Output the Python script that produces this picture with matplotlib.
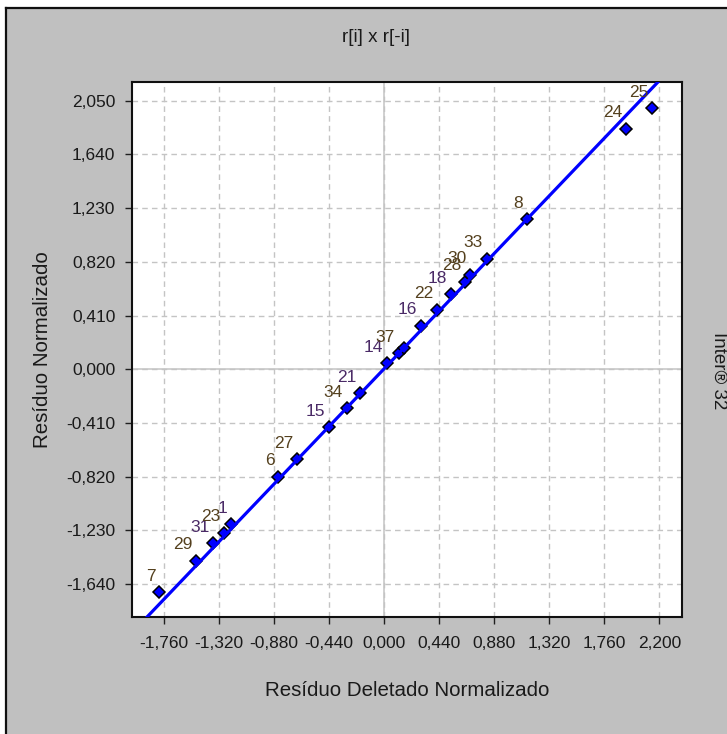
import matplotlib
matplotlib.use("Agg")
import matplotlib.pyplot as plt
from matplotlib.patches import Rectangle
from matplotlib.lines import Line2D
import numpy as np

# ---- data ----
point_labels = ["7", "29", "31", "23", "1", "6", "27", "15", "34", "21", "14",
                "37", "", "16", "22", "18", "28", "30", "33", "8", "24", "25"]
deleted_resid = [-1.798, -1.504, -1.365, -1.278, -1.224, -0.846, -0.698, -0.440,
                 -0.298, -0.192, 0.021, 0.115, 0.155, 0.293, 0.421, 0.533, 0.648,
                 0.688, 0.822, 1.142, 1.934, 2.142]
norm_resid = [-1.703, -1.461, -1.328, -1.247, -1.183, -0.820, -0.685, -0.443,
              -0.298, -0.183, 0.046, 0.122, 0.160, 0.333, 0.453, 0.573, 0.669,
              0.720, 0.842, 1.145, 1.835, 1.993]
label_purple = ["1", "31", "15", "16", "14", "21", "18"]
fit_slope = 1.0
fit_intercept = 0.005

x_ticks = [-1.760, -1.320, -0.880, -0.440, 0.000, 0.440, 0.880, 1.320, 1.760, 2.200]
y_ticks = [-1.640, -1.230, -0.820, -0.410, 0.000, 0.410, 0.820, 1.230, 1.640, 2.050]

title = "r[i] x r[-i]"
x_title = "Resíduo Deletado Normalizado"
y_title = "Resíduo Normalizado"
side_text = "Inter® 32"

# ---- style ----
FONT = ["Liberation Sans Narrow", "Liberation Sans", "DejaVu Sans"]
plt.rcParams["font.family"] = FONT

W, H = 727, 734
fig = plt.figure(figsize=(W / 100, H / 100), dpi=100)
fig.patch.set_facecolor("white")
# window-like gray panel with dark top/left border
fig.patches.append(Rectangle((6 / W, 0), 1, 1 - 7 / H, transform=fig.transFigure,
                             facecolor="#c0c0c0", edgecolor="none", zorder=-10))
fig.lines.append(Line2D([5.5 / W, 1], [1 - 7.5 / H, 1 - 7.5 / H], transform=fig.transFigure,
                        color="#101010", lw=1.6, zorder=-5))
fig.lines.append(Line2D([5.5 / W, 5.5 / W], [0, 1 - 7.5 / H], transform=fig.transFigure,
                        color="#101010", lw=1.6, zorder=-5))

ax = fig.add_axes([132 / W, 1 - 617 / H, (682 - 132) / W, (617 - 82) / H])
ax.set_facecolor("white")
ax.set_xlim(-2.016, 2.38)
ax.set_ylim(-1.891, 2.193)

ax.set_xticks(x_ticks)
ax.set_yticks(y_ticks)
ax.set_xticklabels([f"{v:.3f}".replace(".", ",") for v in x_ticks])
ax.set_yticklabels([f"{v:.3f}".replace(".", ",") for v in y_ticks])
ax.tick_params(axis="both", direction="out", length=5, width=1, color="#202020",
               labelsize=12.5, labelcolor="#1a1a1a", pad=9)
ax.tick_params(axis="y", pad=7)

ax.grid(True, color="#c4c4c4", lw=1, ls=(0, (4, 3)))
ax.axhline(0, color="#c8c8c8", lw=1.2, zorder=1)
ax.axvline(0, color="#c8c8c8", lw=1.2, zorder=1)
for s in ax.spines.values():
    s.set_color("#101010")
    s.set_linewidth(1.5)

ax.plot(deleted_resid, norm_resid, ls="none", marker="D", ms=6, mfc="#0000ff",
        mec="black", mew=1.1, zorder=3)
ax.axline((0, fit_intercept), slope=fit_slope, color="#0000ff", lw=2.3, zorder=4)

for lab, xv, yv in zip(point_labels, deleted_resid, norm_resid):
    if not lab:
        continue
    col = "#4a2a66" if lab in label_purple else "#54401e"
    ax.annotate(lab, (xv, yv), xytext=(-4, 16), textcoords="offset pixels",
                ha="right", va="center", fontsize=12.5, color=col, zorder=5)

ax.set_xlabel(x_title, fontsize=14.8, color="#1a1a1a", labelpad=21)
ax.set_ylabel(y_title, fontsize=14.8, color="#1a1a1a", labelpad=10)

fig.text(376 / W, 1 - 38 / H, title, ha="center", va="center", fontsize=13.5,
         color="#1a1a1a")
fig.text(719 / W, 1 - 332 / H, side_text, rotation=270, ha="center", va="top",
         fontsize=13.5, color="#1a1a1a")

fig.savefig("out.png", dpi=100, facecolor=fig.get_facecolor())
